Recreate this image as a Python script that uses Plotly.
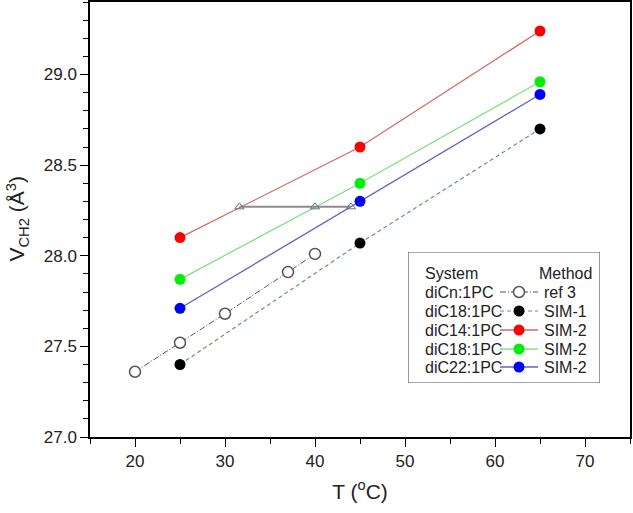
import plotly.graph_objects as go

# Data
ref_T = [20, 25, 30, 37, 40]
ref_V = [27.36, 27.52, 27.68, 27.91, 28.01]

sim_T = [25, 45, 65]
sim1_C18 = [27.40, 28.07, 28.70]
sim2_C14 = [28.10, 28.60, 29.24]
sim2_C18 = [27.87, 28.40, 28.96]
sim2_C22 = [27.71, 28.30, 28.89]

iso_T = [31.6, 40.0, 44.0]
iso_V = [28.27, 28.27, 28.27]

systems = ["diCn:1PC", "diC18:1PC", "diC14:1PC", "diC18:1PC", "diC22:1PC"]
methods = ["ref 3", "SIM-1", "SIM-2", "SIM-2", "SIM-2"]

x_range = [15, 75]
y_range = [27.0, 29.4]

FONT = "Arial, Liberation Sans, sans-serif"
TXT = "#222222"
W, H = 633, 513
L, R, T, B = 90, 3, 2, 76
pw, ph = W - L - R, H - T - B

def px2x(p):
    return (p - L) / pw

def px2y(p):
    return (H - B - p) / ph

# legend box in pixels
LX0, LX1, LY0, LY1 = 408, 600, 252, 383

styles = [
    dict(line=dict(color="#555555", width=1, dash="6px,2px,1px,2px"),
         marker=dict(symbol="circle", size=11, color="white", line=dict(color="#555555", width=1.5))),
    dict(line=dict(color="#5f9f5f", width=1.2, dash="4px,3px"),
         marker=dict(symbol="circle", size=11, color="black")),
    dict(line=dict(color="#d66a6a", width=1.3),
         marker=dict(symbol="circle", size=11, color="#ff0000")),
    dict(line=dict(color="#80e080", width=1.3),
         marker=dict(symbol="circle", size=11, color="#00ee00")),
    dict(line=dict(color="#6060c8", width=1.3),
         marker=dict(symbol="circle", size=11, color="#0000ff")),
]

fig = go.Figure()

series = [(ref_T, ref_V), (sim_T, sim1_C18), (sim_T, sim2_C14), (sim_T, sim2_C18), (sim_T, sim2_C22)]
for (xs, ys), st, m in zip(series, styles, methods):
    fig.add_trace(go.Scatter(x=xs, y=ys, mode="lines+markers", name=m, showlegend=False, **st))

fig.add_trace(go.Scatter(
    x=iso_T, y=iso_V, mode="lines+markers", showlegend=False,
    line=dict(color="#8c8c8c", width=2),
    marker=dict(symbol="triangle-up-open", size=8, color="#707070", line=dict(width=1))))

# legend samples drawn on a pixel-unit helper axis
row_y = [292, 311, 330, 349, 367]
for st, yy in zip(styles, row_y):
    fig.add_trace(go.Scatter(x=[500, 538], y=[yy, yy], mode="lines", xaxis="x3", yaxis="y3",
                             showlegend=False, hoverinfo="skip", line=st["line"]))
    fig.add_trace(go.Scatter(x=[519], y=[yy], mode="markers", xaxis="x3", yaxis="y3",
                             showlegend=False, hoverinfo="skip", marker=st["marker"]))

axis_common = dict(showgrid=False, zeroline=False, showline=True, linecolor="black",
                   linewidth=1.5, tickcolor="black", tickwidth=1.2, automargin=False,
                   tickfont=dict(family=FONT, size=17, color=TXT))

fig.update_layout(
    width=W, height=H,
    margin=dict(l=L, r=R, t=T, b=B),
    paper_bgcolor="white", plot_bgcolor="rgba(0,0,0,0)",
    font=dict(family=FONT, color=TXT),
    showlegend=False,
    xaxis=dict(range=x_range, dtick=10, tick0=0, ticks="outside", ticklen=8,
               minor=dict(dtick=5, tick0=0, ticks="outside", ticklen=5, tickcolor="black"),
               mirror=True,
               title=dict(text="T (<sup>o</sup>C)", font=dict(family=FONT, size=21, color=TXT), standoff=14),
               **axis_common),
    yaxis=dict(range=y_range, dtick=0.5, tick0=27, tickformat=".1f", ticks="outside", ticklen=8,
               minor=dict(dtick=0.1, tick0=27, ticks="outside", ticklen=5, tickcolor="black"),
               mirror=True,
               **axis_common),
    xaxis3=dict(domain=[px2x(LX0), px2x(LX1)], anchor="y3", range=[LX0, LX1], visible=False,
                fixedrange=True),
    yaxis3=dict(domain=[px2y(LY1), px2y(LY0)], anchor="x3", range=[LY1, LY0], visible=False,
                fixedrange=True),
)

# y-axis title placed as a rotated annotation
fig.add_annotation(xref="paper", yref="paper", x=px2x(17), y=0.5, textangle=-90,
                   text="V<sub>CH2</sub> (Å<sup>3</sup>)", showarrow=False,
                   xanchor="center", yanchor="middle",
                   font=dict(family=FONT, size=21, color=TXT))

# legend frame
fig.add_shape(type="rect", xref="x3", yref="y3", x0=LX0, x1=LX1, y0=LY0, y1=LY1,
              line=dict(color="#555", width=1.2), fillcolor="white", layer="below")

fig.add_annotation(xref="x3", yref="y3", x=423, y=273, text="System",
                   showarrow=False, xanchor="left", yanchor="middle",
                   font=dict(family=FONT, size=16, color=TXT))
fig.add_annotation(xref="x3", yref="y3", x=594, y=273, text="Method",
                   showarrow=False, xanchor="right", yanchor="middle",
                   font=dict(family=FONT, size=16, color=TXT))
for s, m, yy in zip(systems, methods, row_y):
    fig.add_annotation(xref="x3", yref="y3", x=423, y=yy, text=s,
                       showarrow=False, xanchor="left", yanchor="middle",
                       font=dict(family=FONT, size=16, color=TXT))
    fig.add_annotation(xref="x3", yref="y3", x=542, y=yy, text=m,
                       showarrow=False, xanchor="left", yanchor="middle",
                       font=dict(family=FONT, size=16, color=TXT))

fig.write_html("out.html", config={"displayModeBar": False},
               post_script="document.body.style.margin='0px';document.body.style.overflow='hidden';")
